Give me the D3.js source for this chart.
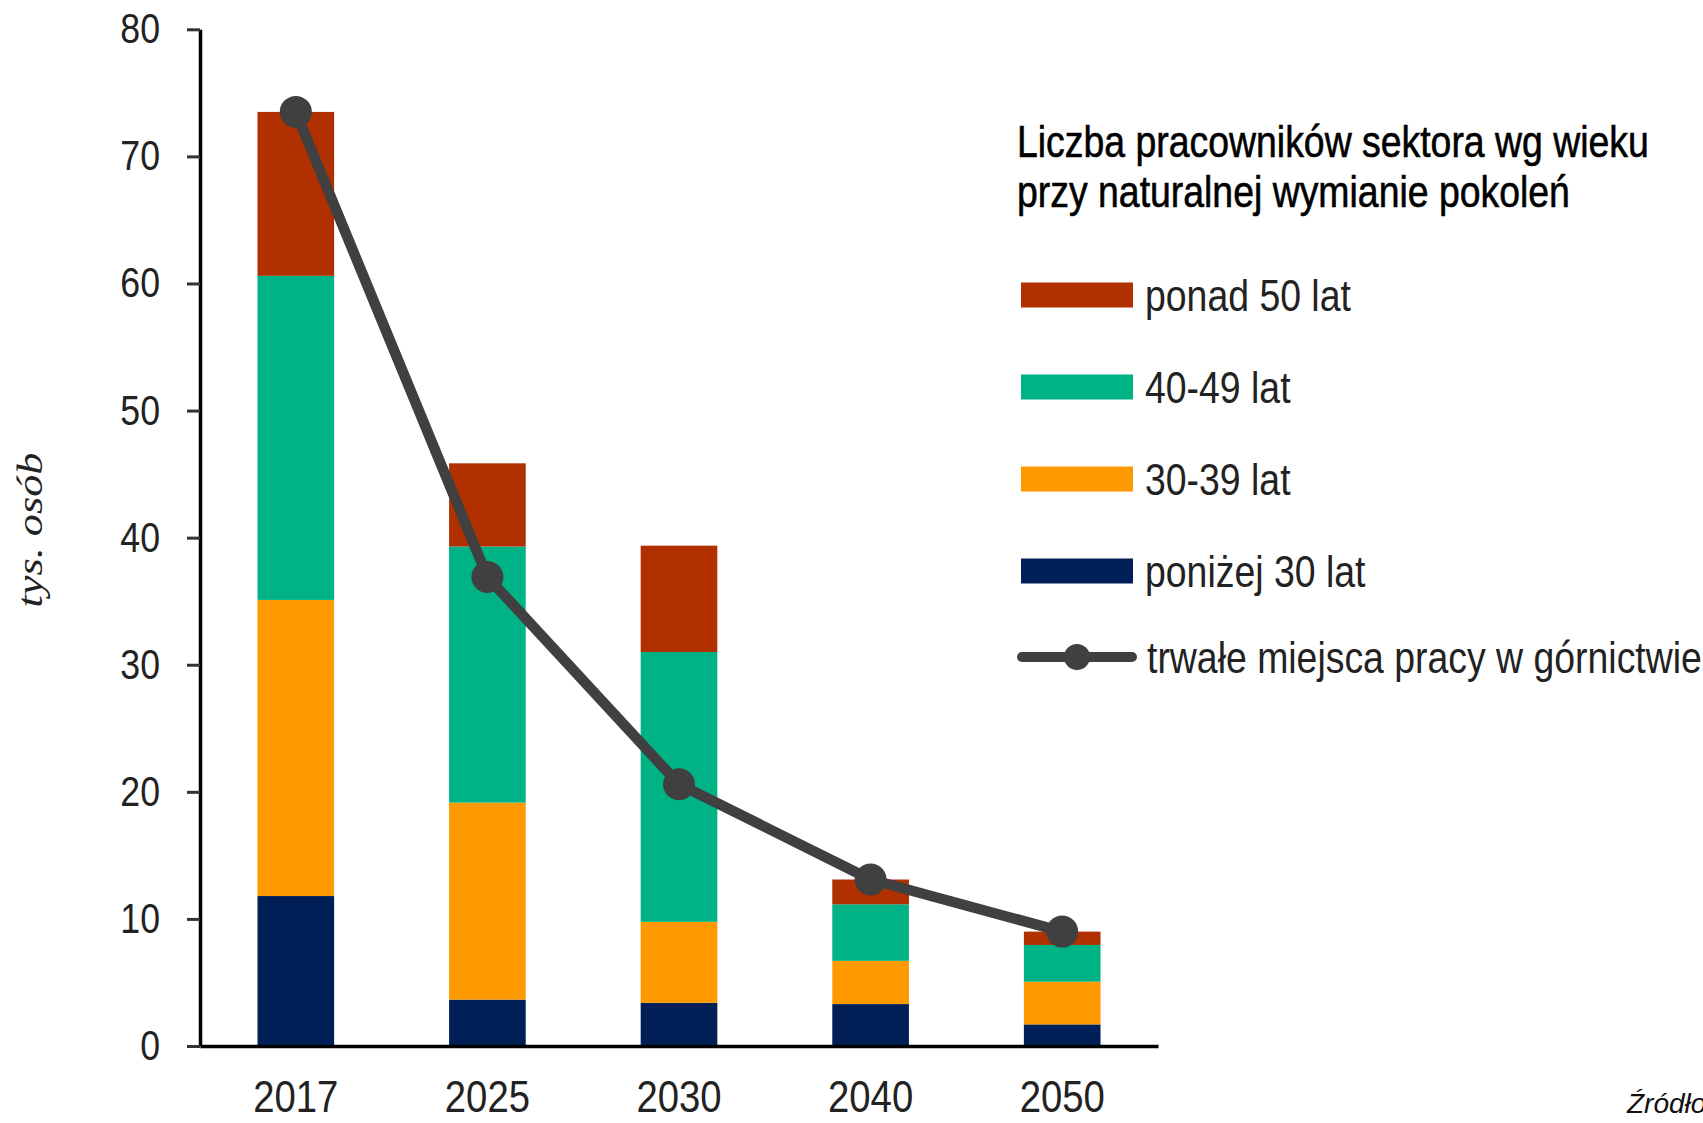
<!DOCTYPE html>
<html>
<head>
<meta charset="utf-8">
<script src="https://cdn.jsdelivr.net/npm/d3@7"></script>
<style>
  html, body { margin: 0; padding: 0; background: #fff; }
  svg { display: block; }
</style>
</head>
<body>
<svg id="chart" width="1703" height="1123"></svg>
<script>
// ---- data ----
const categories = ["2017", "2025", "2030", "2040", "2050"];
const below30   = [11.8, 3.65, 3.4, 3.3, 1.7];
const age30_39  = [23.3, 15.5, 6.37, 3.4, 3.36];
const age40_49  = [25.5, 20.15, 21.23, 4.45, 2.89];
const over50    = [12.9, 6.55, 8.37, 1.95, 1.05];
const jobs      = [73.5, 36.9, 20.6, 13.1, 9.0];
const seriesNames = ["poniżej 30 lat", "30-39 lat", "40-49 lat", "ponad 50 lat"];
const lineName = "trwałe miejsca pracy w górnictwie";
const yTicks = [0, 10, 20, 30, 40, 50, 60, 70, 80];
const legendTitle = ["Liczba pracowników sektora wg wieku", "przy naturalnej wymianie pokoleń"];
const yLabel = "tys. osób";
const sourceText = "Źródło: ";

// ---- styles ----
const colors = {"poniżej 30 lat": "#001f57", "30-39 lat": "#ff9900", "40-49 lat": "#00b386", "ponad 50 lat": "#b03000"};
const lineColor = "#404040";
const SANS = "'Liberation Sans', Arial, sans-serif";
const CONDENSE = 0.85;

const svg = d3.select("#chart");
const plotLeft = 200, plotRight = 1158, plotTop = 29.3, plotBottom = 1046;

const x = d3.scaleBand().domain(categories).range([plotLeft, plotRight]).paddingInner(0.6).paddingOuter(0.3);
const y = d3.scaleLinear().domain([0, 80]).range([plotBottom, plotTop]);

// stacked data
const rows = categories.map((c, i) => ({
  cat: c,
  "poniżej 30 lat": below30[i],
  "30-39 lat": age30_39[i],
  "40-49 lat": age40_49[i],
  "ponad 50 lat": over50[i]
}));
const stacked = d3.stack().keys(seriesNames)(rows);

svg.append("g").selectAll("g").data(stacked).join("g")
  .attr("fill", d => colors[d.key])
  .selectAll("rect").data(d => d).join("rect")
  .attr("x", d => x(d.data.cat))
  .attr("width", x.bandwidth())
  .attr("y", d => y(d[1]))
  .attr("height", d => y(d[0]) - y(d[1]));

function condense(sel, k) {
  sel.each(function () {
    const t = d3.select(this);
    const tx = +t.attr("x") || 0, ty = +t.attr("y") || 0;
    t.attr("x", 0).attr("y", 0).attr("transform", `translate(${tx},${ty}) scale(${k},1)`);
  });
}

// y axis
const gy = svg.append("g").attr("transform", `translate(${plotLeft},0)`)
  .call(d3.axisLeft(y).tickValues(yTicks).tickSize(13).tickSizeOuter(0).tickPadding(27));
gy.select(".domain").attr("stroke", "#000").attr("stroke-width", 3.5);
gy.selectAll(".tick line").attr("stroke", "#333").attr("stroke-width", 3);
gy.selectAll(".tick text").attr("font-family", SANS).attr("font-size", 42).attr("fill", "#222").call(condense, CONDENSE);

// x axis
const gx = svg.append("g").attr("transform", `translate(0,${plotBottom})`)
  .call(d3.axisBottom(x).tickSize(0).tickSizeOuter(0).tickPadding(35));
gx.select(".domain").attr("stroke", "#000").attr("stroke-width", 3.5);
gx.selectAll(".tick text").attr("font-family", SANS).attr("font-size", 44).attr("fill", "#222").call(condense, 0.87);

// line
const cx = c => x(c) + x.bandwidth() / 2;
const lineGen = d3.line().x((d, i) => cx(categories[i])).y(d => y(d));
svg.append("path").datum(jobs)
  .attr("d", lineGen).attr("fill", "none").attr("stroke", lineColor)
  .attr("stroke-width", 10.5).attr("stroke-linejoin", "round").attr("stroke-linecap", "round");
svg.append("g").selectAll("circle").data(jobs).join("circle")
  .attr("cx", (d, i) => cx(categories[i])).attr("cy", d => y(d)).attr("r", 16).attr("fill", lineColor);

// y label
svg.append("text")
  .attr("transform", "translate(42,530) rotate(-90)")
  .attr("text-anchor", "middle")
  .attr("font-family", "'Liberation Serif', 'DejaVu Serif', serif")
  .attr("font-style", "italic").attr("font-size", 36).attr("fill", "#222")
  .attr("textLength", 155).attr("lengthAdjust", "spacingAndGlyphs")
  .text(yLabel);

// legend
const lg = svg.append("g");
lg.selectAll("text.title").data(legendTitle).join("text").attr("class", "title")
  .attr("x", 1017).attr("y", (d, i) => 157 + i * 50)
  .attr("font-family", SANS).attr("font-size", 44).attr("fill", "#000")
  .attr("stroke", "#000").attr("stroke-width", 0.6)
  .text(d => d).call(condense, CONDENSE);

const legendOrder = ["ponad 50 lat", "40-49 lat", "30-39 lat", "poniżej 30 lat"];
const ly = i => 295 + i * 92;
const items = lg.selectAll("g.item").data(legendOrder).join("g").attr("class", "item");
items.append("rect").attr("x", 1021).attr("width", 112)
  .attr("y", (d, i) => ly(i) - 12.5).attr("height", 25).attr("fill", d => colors[d]);
items.append("text").attr("x", 1145).attr("y", (d, i) => ly(i) + 16)
  .attr("font-family", SANS).attr("font-size", 44).attr("fill", "#222")
  .text(d => d).call(condense, CONDENSE);

const lineY = ly(4) - 6;
lg.append("line").attr("x1", 1022).attr("x2", 1132).attr("y1", lineY).attr("y2", lineY)
  .attr("stroke", lineColor).attr("stroke-width", 10).attr("stroke-linecap", "round");
lg.append("circle").attr("cx", 1077).attr("cy", lineY).attr("r", 13).attr("fill", lineColor);
lg.append("text").attr("x", 1147).attr("y", lineY + 16)
  .attr("font-family", SANS).attr("font-size", 44).attr("fill", "#222")
  .text(lineName).call(condense, CONDENSE);

// source (clipped at the right edge, as in the reference)
svg.append("text").attr("x", 1627).attr("y", 1113)
  .attr("font-family", SANS).attr("font-style", "italic").attr("font-size", 28).attr("fill", "#111")
  .text(sourceText);
</script>
</body>
</html>
